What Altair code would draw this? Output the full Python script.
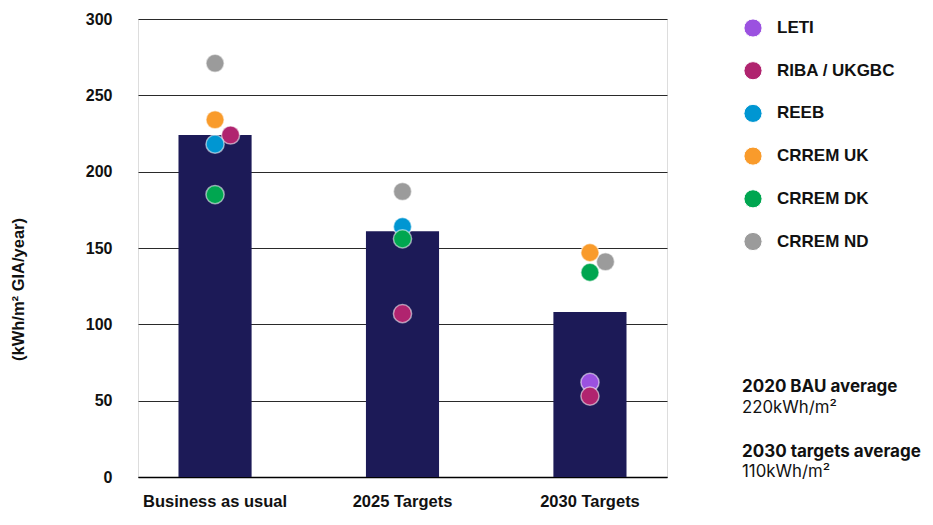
import altair as alt
import pandas as pd

categories = ["Business as usual", "2025 Targets", "2030 Targets"]
bar_values = [224, 161, 108]

sources = ["LETI", "RIBA / UKGBC", "REEB", "CRREM UK", "CRREM DK", "CRREM ND"]
colors = ["#9B51E0", "#B0246F", "#0096D2", "#F99B2B", "#00A650", "#9B9B9B"]

leti = [None, None, 62]
riba = [224, 107, 53]
reeb = [218, 164, None]
crrem_uk = [234, None, 147]
crrem_dk = [185, 156, 134]
crrem_nd = [271, 187, 141]

# points nudged sideways in the original to avoid overlap
nudged = [("Business as usual", "RIBA / UKGBC"), ("2030 Targets", "CRREM ND")]
draw_order = ["CRREM ND", "LETI", "CRREM UK", "RIBA / UKGBC", "REEB", "CRREM DK"]

notes = [
    ("2020 BAU average", "bold"),
    ("220kWh/m²", "normal"),
    ("2030 targets average", "bold"),
    ("110kWh/m²", "normal"),
]

series = dict(zip(sources, [leti, riba, reeb, crrem_uk, crrem_dk, crrem_nd]))

bars_df = pd.DataFrame({"category": categories, "value": bar_values})
rows = []
for src in draw_order:
    for cat, v in zip(categories, series[src]):
        if v is None:
            continue
        rows.append({"category": cat, "source": src, "value": v,
                     "nudge": 1 if (cat, src) in nudged else 0})
pts_df = pd.DataFrame(rows)

AX_FONT = "Liberation Sans"

x_axis = alt.Axis(title=None, labelAngle=0, labelFont=AX_FONT, labelFontWeight="bold",
                  labelFontSize=16.5, labelColor="#111", labelPadding=16, ticks=False,
                  domainColor="#000", domainWidth=1.5)
y_axis = alt.Axis(title="(kWh/m² GIA/year)", values=[0, 50, 100, 150, 200, 250, 300],
                  labelFont=AX_FONT, labelFontWeight="bold", labelFontSize=16,
                  labelColor="#111", labelPadding=26, ticks=False, domain=False,
                  grid=True, gridColor="#2a2a2a", gridWidth=1.2,
                  titleFont=AX_FONT, titleFontWeight="bold", titleFontSize=16.5,
                  titleColor="#111", titleAngle=-90, titleX=-120, titleY=270,
                  titleAlign="center", titleBaseline="middle")

x_scale = alt.Scale(domain=categories, paddingInner=0.61, paddingOuter=0.216)
y_scale = alt.Scale(domain=[0, 300], nice=False)

bars = alt.Chart(bars_df).mark_bar(color="#1C1A57").encode(
    x=alt.X("category:N", sort=categories, scale=x_scale, axis=x_axis),
    y=alt.Y("value:Q", scale=y_scale, axis=y_axis),
)

points = alt.Chart(pts_df).mark_circle(
    size=330, opacity=1, stroke="white", strokeWidth=1.5, strokeOpacity=0.55,
    xOffset=alt.expr("datum.nudge * 15.5"),
).encode(
    x=alt.X("category:N", sort=categories, scale=x_scale, axis=x_axis),
    y=alt.Y("value:Q", scale=y_scale, axis=y_axis),
    color=alt.Color("source:N", scale=alt.Scale(domain=sources, range=colors),
                    legend=alt.Legend(orient="none", legendX=605, legendY=-1, title=None,
                                      symbolType="circle", symbolSize=330,
                                      symbolStrokeColor="white", symbolStrokeWidth=1,
                                      labelFont=AX_FONT, labelFontWeight="bold",
                                      labelFontSize=17, labelColor="#111",
                                      rowPadding=18.7, labelOffset=14, padding=0,
                                      symbolOpacity=1)),
)

note_y = [368, 389, 433, 453]
note_layers = []
for (txt, weight), yy in zip(notes, note_y):
    note_layers.append(
        alt.Chart(pd.DataFrame({"t": [txt]})).mark_text(
            align="left", baseline="middle", font="Inter",
            fontSize=17 if weight == "bold" else 16.8,
            fontWeight=700 if weight == "bold" else 400, color="#111"
        ).encode(x=alt.value(604), y=alt.value(yy), text="t:N")
    )

chart = alt.layer(bars, points, *note_layers).properties(
    width=529, height=458,
    autosize=alt.AutoSizeParams(type="none"),
    padding={"left": 130, "top": 11, "right": 258, "bottom": 40},
).configure_view(stroke=None).configure(background="white")

chart.save("out.html", embed_options={"renderer": "svg", "actions": False})
